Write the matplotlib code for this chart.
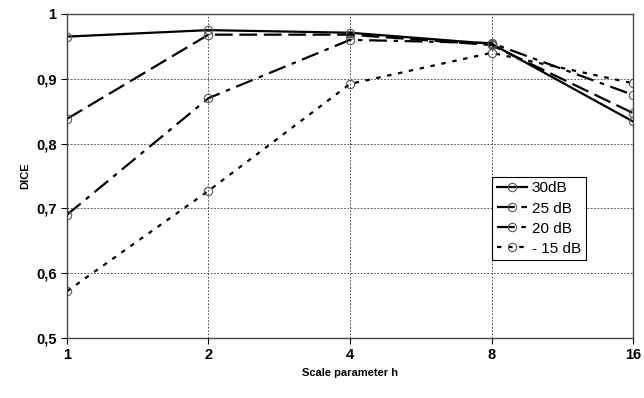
import matplotlib.pyplot as plt
import numpy as np

plt.rcParams['font.family'] = ['Liberation Sans', 'DejaVu Sans']

h_labels = ['1', '2', '4', '8', '16']
dice_30 = [0.965, 0.975, 0.971, 0.954, 0.834]
dice_25 = [0.838, 0.968, 0.968, 0.952, 0.847]
dice_20 = [0.690, 0.870, 0.960, 0.955, 0.875]
dice_15 = [0.572, 0.727, 0.892, 0.940, 0.893]

series = [
    ('30dB', dice_30, '-'),
    ('25 dB', dice_25, (0, (8, 3))),
    ('20 dB', dice_20, (0, (8, 3, 2, 3))),
    ('- 15 dB', dice_15, (0, (2, 3))),
]

fig = plt.figure(figsize=(6.44, 3.98), dpi=100)
ax = fig.add_axes([0.104, 0.151, 0.879, 0.814])
x = np.arange(len(h_labels))

for name, vals, ls in series:
    ax.plot(x, vals, color='black', linestyle=ls, linewidth=1.6,
            marker='o', markersize=6, markerfacecolor='none',
            markeredgecolor='#555555', markeredgewidth=0.8, label=name)

ax.set_xlim(0, 4)
ax.set_ylim(0.5, 1.0)
ax.set_xticks(x)
ax.set_xticklabels(h_labels)
ax.set_yticks([0.5, 0.6, 0.7, 0.8, 0.9, 1.0])
ax.set_yticklabels(['0,5', '0,6', '0,7', '0,8', '0,9', '1'])
ax.tick_params(labelsize=10.5, direction='out', length=4, width=0.8)
for lab in ax.get_xticklabels() + ax.get_yticklabels():
    lab.set_fontweight('bold')

ax.grid(True, color='#333333', linestyle=(0, (2, 2)), linewidth=0.6)
for s in ax.spines.values():
    s.set_color('#444444')
    s.set_linewidth(1.0)

ax.set_xlabel('Scale parameter h', fontsize=8, fontweight='bold')
ax.set_ylabel('DICE', fontsize=8, fontweight='bold')

leg = ax.legend(loc='upper left', bbox_to_anchor=(0.751, 0.497), borderaxespad=0,
                fontsize=11, frameon=True, fancybox=False, framealpha=1,
                edgecolor='black', handlelength=2.0, handletextpad=0.3,
                borderpad=0.3, labelspacing=0.4)
leg.get_frame().set_linewidth(0.8)

fig.savefig('out.png', dpi=100)
